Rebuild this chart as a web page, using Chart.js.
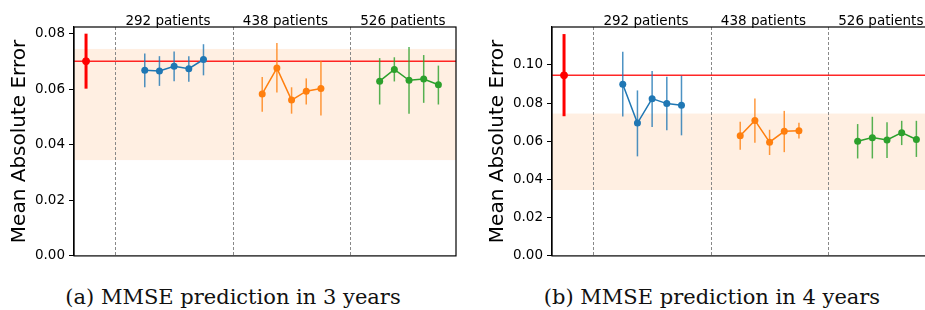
<!DOCTYPE html>
<html>
<head>
<meta charset="utf-8">
<script src="https://cdn.jsdelivr.net/npm/chart.js@4.4.0/dist/chart.umd.min.js"></script>
<style>
  html, body { margin: 0; padding: 0; background: #fff; }
  #wrap { position: relative; width: 925px; height: 310px; overflow: hidden; background: #fff; }
  .box { position: absolute; top: 0; width: 470px; height: 268px; }
  .cap { position: absolute; top: 287px; width: 400px; text-align: center;
         font-family: "DejaVu Serif", serif; font-size: 21px; line-height: 21px; color: #111; }
</style>
</head>
<body>
<div id="wrap">
  <div class="box" style="left:0px"><canvas id="c3"></canvas></div>
  <div class="box" style="left:478px"><canvas id="c4"></canvas></div>
  <div class="cap" style="left:33px">(a) MMSE prediction in 3 years</div>
  <div class="cap" style="left:512px">(b) MMSE prediction in 4 years</div>
</div>
<script>
  'use strict'

  // group labels and the shaded reference band (same for both panels)
  var groupNames = ['292 patients', '438 patients', '526 patients']
  var bandRange = [0.0345, 0.0745]

  // (a) 3 years
  var base3 = 0.0701
  var base3Err = [0.0602, 0.0800]
  var mean3 = [
    [0.0668, 0.0666, 0.0683, 0.0674, 0.0707],
    [0.0583, 0.0676, 0.0561, 0.0593, 0.0603],
    [0.0629, 0.0671, 0.0632, 0.0637, 0.0616]
  ]
  var low3 = [
    [0.0607, 0.0612, 0.0629, 0.0627, 0.0650],
    [0.0519, 0.0588, 0.0512, 0.0545, 0.0505],
    [0.0545, 0.0628, 0.0512, 0.0551, 0.0545]
  ]
  var high3 = [
    [0.0729, 0.0719, 0.0736, 0.0719, 0.0762],
    [0.0644, 0.0766, 0.0607, 0.0639, 0.0702],
    [0.0712, 0.0715, 0.0752, 0.0723, 0.0685]
  ]
  var ticks3 = [0, 0.02, 0.04, 0.06, 0.08]

  // (b) 4 years
  var base4 = 0.0945
  var base4Err = [0.0731, 0.1161]
  var mean4 = [
    [0.0898, 0.0695, 0.0823, 0.0797, 0.0788],
    [0.0629, 0.0709, 0.0595, 0.0652, 0.0655],
    [0.0600, 0.0619, 0.0607, 0.0645, 0.0609]
  ]
  var low4 = [
    [0.0730, 0.0521, 0.0674, 0.0657, 0.0631],
    [0.0555, 0.0592, 0.0528, 0.0543, 0.0614],
    [0.0510, 0.0510, 0.0512, 0.0580, 0.0518]
  ]
  var high4 = [
    [0.1069, 0.0866, 0.0968, 0.0938, 0.0943],
    [0.0702, 0.0824, 0.0660, 0.0759, 0.0697],
    [0.0690, 0.0728, 0.0700, 0.0707, 0.0707]
  ]
  var ticks4 = [0, 0.02, 0.04, 0.06, 0.08, 0.10]

  var colors = ['#1f77b4', '#ff7f0e', '#2ca02c']
  var barColors = ['rgba(31,119,180,0.8)', 'rgba(255,127,14,0.8)', 'rgba(44,160,44,0.8)']

  // x layout: baseline at 0, group g occupies 4+8g .. 8+8g, separators at 2+8g
  function xOf (g, i) { return 4 + 8 * g + i }

  var decor = {
    id: 'decor',
    beforeDatasetsDraw: function (chart) {
      var o = chart.options.plugins.decor
      var x = chart.scales.x
      var y = chart.scales.y
      var a = chart.chartArea
      var ctx = chart.ctx
      ctx.save()
      // shaded band
      ctx.fillStyle = 'rgba(255,127,14,0.12)'
      var yt = y.getPixelForValue(bandRange[1])
      var yb = y.getPixelForValue(bandRange[0])
      ctx.fillRect(a.left, yt, a.right - a.left, yb - yt)
      // group separators
      ctx.strokeStyle = '#888'
      ctx.lineWidth = 1
      ctx.setLineDash([3, 2])
      for (var g = 0; g < 3; g++) {
        var px = Math.round(x.getPixelForValue(2 + 8 * g)) + 0.5
        ctx.beginPath()
        ctx.moveTo(px, a.top)
        ctx.lineTo(px, a.bottom)
        ctx.stroke()
      }
      ctx.setLineDash([])
      // baseline horizontal line
      ctx.strokeStyle = 'rgba(255,0,0,0.85)'
      ctx.lineWidth = 1.5
      var by = y.getPixelForValue(o.base)
      ctx.beginPath()
      ctx.moveTo(a.left, by)
      ctx.lineTo(a.right, by)
      ctx.stroke()
      // error bars
      ctx.strokeStyle = 'red'
      ctx.lineWidth = 3
      var bx = x.getPixelForValue(0)
      ctx.beginPath()
      ctx.moveTo(bx, y.getPixelForValue(o.baseErr[0]))
      ctx.lineTo(bx, y.getPixelForValue(o.baseErr[1]))
      ctx.stroke()
      ctx.lineWidth = 1.5
      for (g = 0; g < 3; g++) {
        ctx.strokeStyle = barColors[g]
        for (var i = 0; i < o.low[g].length; i++) {
          var ex = x.getPixelForValue(xOf(g, i))
          ctx.beginPath()
          ctx.moveTo(ex, y.getPixelForValue(o.low[g][i]))
          ctx.lineTo(ex, y.getPixelForValue(o.high[g][i]))
          ctx.stroke()
        }
      }
      ctx.restore()
    },
    afterDraw: function (chart) {
      var x = chart.scales.x
      var a = chart.chartArea
      var ctx = chart.ctx
      ctx.save()
      ctx.strokeStyle = '#000'
      ctx.lineWidth = 1.2
      ctx.strokeRect(a.left, a.top, a.right - a.left, a.bottom - a.top)
      ctx.fillStyle = '#000'
      ctx.font = '13.5px "DejaVu Sans"'
      ctx.textAlign = 'left'
      ctx.textBaseline = 'alphabetic'
      for (var g = 0; g < 3; g++) {
        ctx.fillText(groupNames[g], x.getPixelForValue(2.68 + 8 * g), a.top - 2)
      }
      ctx.restore()
    }
  }

  function makeChart (id, base, baseErr, mean, low, high, tickVals, yMax) {
    var datasets = [{
      data: [{ x: 0, y: base }],
      backgroundColor: 'red',
      borderColor: 'red',
      pointRadius: 3.5,
      showLine: false
    }]
    for (var g = 0; g < 3; g++) {
      datasets.push({
        data: mean[g].map(function (v, i) { return { x: xOf(g, i), y: v } }),
        borderColor: colors[g],
        backgroundColor: colors[g],
        borderWidth: 1.5,
        pointRadius: 3.5,
        pointBorderWidth: 0,
        showLine: true
      })
    }
    return new Chart(document.getElementById(id), {
      type: 'scatter',
      data: { datasets: datasets },
      plugins: [decor],
      options: {
        responsive: true,
        maintainAspectRatio: false,
        animation: false,
        layout: { padding: { top: 27, right: 14, bottom: 8.7, left: 0 } },
        plugins: {
          legend: { display: false },
          tooltip: { enabled: false },
          decor: { base: base, baseErr: baseErr, low: low, high: high }
        },
        scales: {
          x: { type: 'linear', min: -0.82, max: 25.2, display: false },
          y: {
            type: 'linear',
            min: 0,
            max: yMax,
            afterFit: function (s) { s.width = 74 },
            afterBuildTicks: function (s) {
              s.ticks = tickVals.map(function (v) { return { value: v } })
            },
            ticks: {
              color: '#000',
              padding: 4,
              font: { family: 'DejaVu Sans', size: 13.5 },
              callback: function (v) { return v.toFixed(2) }
            },
            grid: { drawOnChartArea: false, tickLength: 5, color: '#000' },
            border: { color: '#000', width: 1.2 },
            title: {
              display: true,
              text: 'Mean Absolute Error',
              color: '#000',
              font: { family: 'DejaVu Sans', size: 20 },
              padding: { top: 8, bottom: 0 }
            }
          }
        }
      }
    })
  }

  makeChart('c3', base3, base3Err, mean3, low3, high3, ticks3, 0.0824)
  makeChart('c4', base4, base4Err, mean4, low4, high4, ticks4, 0.1198)
</script>
</body>
</html>
